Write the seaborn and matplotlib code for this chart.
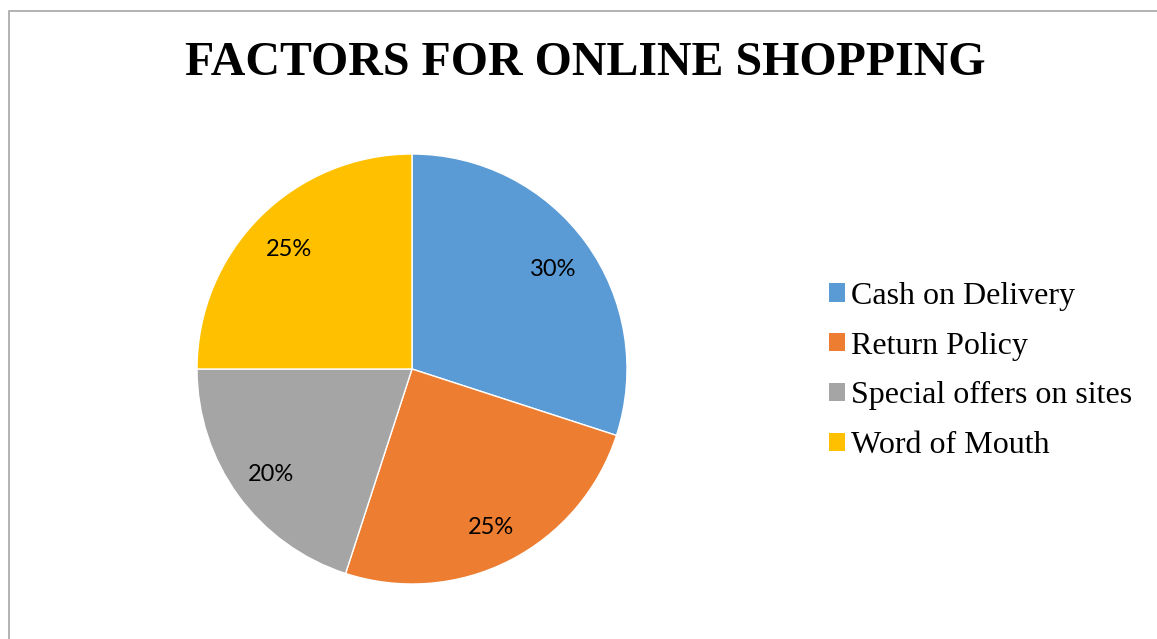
import matplotlib
matplotlib.use("Agg")
import matplotlib.pyplot as plt
from matplotlib.patches import Patch, Rectangle
import seaborn as sns

# chart data
factors = ["Cash on Delivery", "Return Policy", "Special offers on sites", "Word of Mouth"]
shares = [30, 25, 20, 25]
colors = ["#5B9BD5", "#ED7D31", "#A5A5A5", "#FFC000"]
title = "FACTORS FOR ONLINE SHOPPING"

sns.set_theme(style="white")
plt.rcParams["text.color"] = "black"

W, H = 1157, 639
fig = plt.figure(figsize=(W / 100, H / 100), dpi=100)
fig.patch.set_facecolor("white")

# chart-area border (runs off the right/bottom of the image)
fig.add_artist(Rectangle((9 / W, -0.05), 1.2, 1 - 10.5 / H + 0.05,
                         transform=fig.transFigure, fill=False,
                         edgecolor="#A6A6A6", linewidth=1.2))

# pie centre ~(412, 369) px, radius ~215 px
ax = fig.add_axes([197 / W, (H - 584) / H, 430 / W, 430 / H])
wedges, _, autotexts = ax.pie(
    shares,
    colors=colors,
    startangle=90,
    counterclock=False,
    autopct="%d%%",
    pctdistance=0.81,
    wedgeprops={"edgecolor": "white", "linewidth": 1.0},
    textprops={"fontsize": 17, "family": "Lato", "color": "black"},
)
# the labels sit a touch lower than the geometric spot
for t in autotexts:
    x, y = t.get_position()
    t.set_position((x, y - 0.015))
ax.set_xlim(-1, 1)
ax.set_ylim(-1, 1)
ax.set_aspect("equal")
ax.axis("off")

fig.text(585 / W, 1 - 63 / H, title, ha="center", va="center",
         fontsize=34.5, fontweight="bold", family="Liberation Serif",
         color="black")

handles = [Patch(facecolor=c, edgecolor="none") for c in colors]
fig.legend(handles, factors, loc="center left",
           bbox_to_anchor=(829 / W, 1 - 371 / H),
           frameon=False,
           prop={"family": "Liberation Serif", "size": 23},
           labelcolor="black",
           handlelength=0.5, handleheight=0.5, handletextpad=0.2,
           labelspacing=0.65, borderaxespad=0, borderpad=0)

fig.savefig("out.png", dpi=100)
